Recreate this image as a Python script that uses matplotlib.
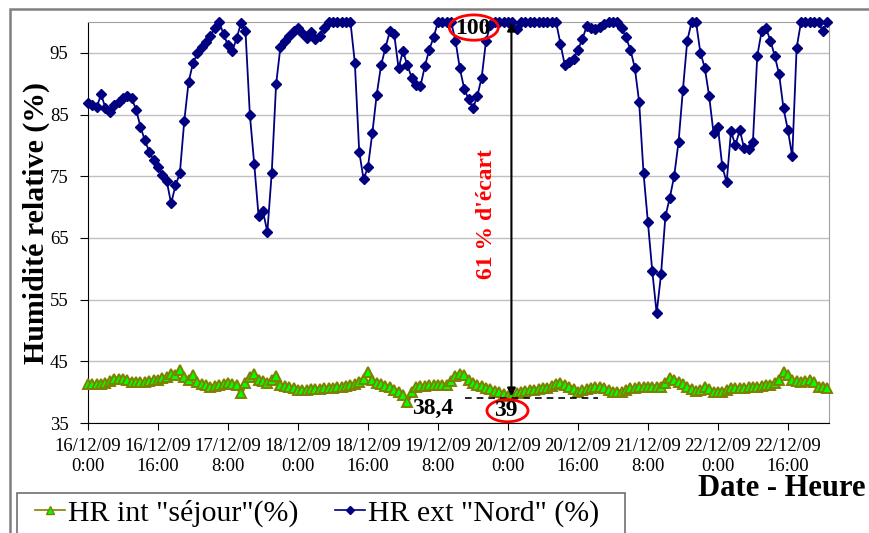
import matplotlib
matplotlib.use("Agg")
import matplotlib.pyplot as plt
from matplotlib.patches import Ellipse, Rectangle
from matplotlib.lines import Line2D

plt.rcParams['font.family'] = ['Liberation Serif', 'DejaVu Serif']

# hours since 16/12/09 0:00 (hourly readings)
hr_ext_nord = [
    86.9, 86.5, 86.2, 88.3, 86.0, 85.4, 86.5, 87.0, 87.6, 88.0,
    87.6, 85.8, 83.0, 80.8, 79.0, 77.6, 76.5, 75.2, 74.2, 70.6,
    73.5, 75.5, 83.9, 90.3, 93.3, 94.9, 95.9, 96.8, 97.8, 99.0,
    100, 98.0, 96.2, 95.3, 97.4, 99.9, 98.5, 85.0, 77.0, 68.5,
    69.3, 66.0, 75.5, 89.9, 96.0, 97.0, 97.7, 98.5, 99.0, 98.2,
    97.4, 98.3, 97.2, 97.8, 99.0, 100, 100, 100, 100, 100,
    100, 93.4, 79.0, 74.5, 76.5, 82.0, 88.2, 93.0, 95.8, 98.5,
    98.0, 92.5, 95.3, 93.0, 91.0, 89.8, 89.6, 92.8, 95.5, 97.5,
    100, 100, 100, 100, 97.0, 92.5, 89.2, 87.5, 86.0, 88.0,
    91.0, 97.0, 99.5, 100, 100, 100, 100, 100, 98.8, 100,
    100, 100, 100, 100, 100, 100, 100, 100, 96.5, 93.0,
    93.5, 94.0, 95.5, 97.2, 99.3, 99.0, 98.8, 99.2, 99.6, 100,
    100, 100, 99.0, 97.5, 95.5, 92.6, 87.0, 75.5, 67.5, 59.6,
    52.8, 59.1, 68.5, 71.5, 75.0, 80.5, 89.0, 97.0, 100, 100,
    95.0, 92.6, 88.0, 82.0, 83.0, 76.6, 74.0, 82.3, 80.0, 82.5,
    79.5, 79.4, 80.5, 94.5, 98.5, 99.0, 97.0, 94.5, 91.5, 86.0,
    82.5, 78.2, 95.8, 100, 100, 100, 100, 100, 98.5, 100,
]
hr_int_sejour = [
    41.3, 41.3, 41.3, 41.4, 41.5, 41.8, 42.2, 42.2, 42.2, 42.0,
    41.7, 41.6, 41.6, 41.7, 41.8, 41.9, 42.0, 42.3, 42.5, 43.0,
    42.8, 43.6, 42.4, 42.0, 42.8, 41.6, 41.3, 41.1, 40.9, 41.0,
    41.1, 41.3, 41.5, 41.4, 41.2, 39.8, 41.5, 42.5, 43.0, 42.0,
    41.8, 41.5, 42.0, 42.6, 41.2, 41.0, 40.9, 40.7, 40.4, 40.4,
    40.4, 40.5, 40.5, 40.5, 40.6, 40.7, 40.7, 40.8, 40.9, 41.0,
    41.2, 41.4, 41.7, 42.2, 43.3, 42.0, 41.5, 41.3, 41.0, 40.8,
    40.4, 40.1, 39.6, 38.4, 40.1, 40.8, 41.0, 41.0, 41.1, 41.1,
    41.1, 41.2, 41.2, 41.8, 42.6, 43.0, 42.7, 42.0, 41.5, 41.2,
    41.0, 40.7, 40.5, 40.2, 40.0, 39.7, 39.3, 39.5, 39.8, 40.0,
    40.2, 40.3, 40.4, 40.5, 40.6, 40.7, 41.0, 41.4, 41.5, 41.2,
    40.9, 40.5, 40.1, 40.3, 40.5, 40.7, 40.8, 40.9, 40.6, 40.3,
    40.1, 40.1, 40.1, 40.3, 40.6, 40.7, 40.8, 40.9, 40.9, 40.9,
    40.9, 40.9, 41.5, 42.3, 42.0, 41.7, 41.3, 40.9, 40.5, 40.2,
    40.3, 40.9, 40.5, 40.1, 40.1, 40.1, 40.3, 40.6, 40.7, 40.7,
    40.7, 40.8, 40.9, 40.9, 41.0, 41.1, 41.2, 41.5, 42.0, 43.2,
    42.8, 42.0, 41.8, 41.7, 41.8, 42.0, 41.6, 40.9, 40.8, 40.6,
]
hours = list(range(len(hr_ext_nord)))

tick_hours = [0, 16, 32, 48, 64, 80, 96, 112, 128, 144, 160]
tick_labels = ["16/12/09\n0:00", "16/12/09\n16:00", "17/12/09\n8:00",
               "18/12/09\n0:00", "18/12/09\n16:00", "19/12/09\n8:00",
               "20/12/09\n0:00", "20/12/09\n16:00", "21/12/09\n8:00",
               "22/12/09\n0:00", "22/12/09\n16:00"]
y_ticks = [35, 45, 55, 65, 75, 85, 95]

W, H = 870, 533
fig = plt.figure(figsize=(W / 100, H / 100), dpi=100)
ax = fig.add_axes([88 / W, 1 - 423 / H, (829 - 88) / W, (423 - 22) / H])

green_line = '#808000'
navy = '#000080'

ax.plot(hours, hr_int_sejour, color=green_line, lw=3, marker='^', ms=7,
        mfc='#00FF00', mec=green_line, mew=1.4, zorder=3, clip_on=False)
ax.plot(hours, hr_ext_nord, color=navy, lw=1.3, marker='D', ms=5,
        mfc=navy, mec=navy, zorder=4, clip_on=False)

ax.set_xlim(0, 169.4)
ax.set_ylim(35, 100)
ax.set_xticks(tick_hours)
ax.set_xticklabels(tick_labels, fontsize=13.5, linespacing=1.2)
ax.set_yticks(y_ticks)
ax.tick_params(axis='y', labelsize=13.5, direction='out', length=6, pad=8)
ax.tick_params(axis='x', direction='out', length=5, pad=6)
ax.grid(axis='y', color='#C0C0C0', lw=1)
ax.set_axisbelow(True)
for s in ['top', 'right']:
    ax.spines[s].set_color('#A0A0A0')
for s in ['left', 'bottom']:
    ax.spines[s].set_color('black')

ax.set_ylabel("Humidité relative (%)", fontsize=21.5, fontweight='bold', labelpad=0)

# annotations
ax.annotate('', xy=(96.8, 99.9), xytext=(96.8, 39.3),
            arrowprops=dict(arrowstyle='<|-|>', color='black', lw=1.5,
                            mutation_scale=12, shrinkA=0, shrinkB=0),
            annotation_clip=False, zorder=6)
ax.plot([86.2, 116.6], [39.0, 39.0], color='black', lw=1.2, ls=(0, (4, 3)), zorder=5)
ax.text(91.2, 68.9, "61 % d'écart", color='red', fontsize=17, fontweight='bold',
        rotation=90, ha='center', va='center', zorder=6)
ax.add_patch(Ellipse((88.2, 99.1), 11.2, 4.1, fill=False, ec='red', lw=2,
                     clip_on=False, zorder=7))
ax.text(88.0, 99.0, "100", fontsize=17, fontweight='bold', ha='center',
        va='center', zorder=8, clip_on=False)
ax.add_patch(Ellipse((95.9, 37.0), 9.4, 3.6, fill=False, ec='red', lw=2,
                     clip_on=False, zorder=7))
ax.text(95.6, 37.0, "39", fontsize=17, fontweight='bold', ha='center',
        va='center', zorder=8)
ax.text(78.9, 37.3, "38,4", fontsize=17, fontweight='bold', ha='center',
        va='center', zorder=8)

fig.text(866 / W, 1 - 489 / H, "Date - Heure", fontsize=22, fontweight='bold',
         ha='right', va='center')

handles = [
    Line2D([], [], color=green_line, lw=1.2, marker='^', ms=6, mfc='#00FF00', mec=green_line),
    Line2D([], [], color=navy, lw=1.2, marker='D', ms=4, mfc=navy, mec=navy),
]
leg = fig.legend(handles, ['HR int "séjour"(%)', 'HR ext "Nord" (%)'],
                 loc='center left', bbox_to_anchor=(35 / W, 1 - 513 / H), ncol=2,
                 fontsize=21.5, frameon=False, handlelength=1.0,
                 handletextpad=0.12, columnspacing=1.2, borderpad=0,
                 borderaxespad=0)
fig.add_artist(Rectangle((17 / W, -0.1), (625 - 17) / W, 0.1 + (533 - 493) / H,
                         transform=fig.transFigure, fill=False, ec='#707070', lw=1.2))

fig.add_artist(Rectangle((10 / W, -0.2), 1.2, 1 - 9 / H + 0.2, transform=fig.transFigure,
                         fill=False, ec='#808080', lw=1.8))

fig.savefig('out.png', dpi=100)
